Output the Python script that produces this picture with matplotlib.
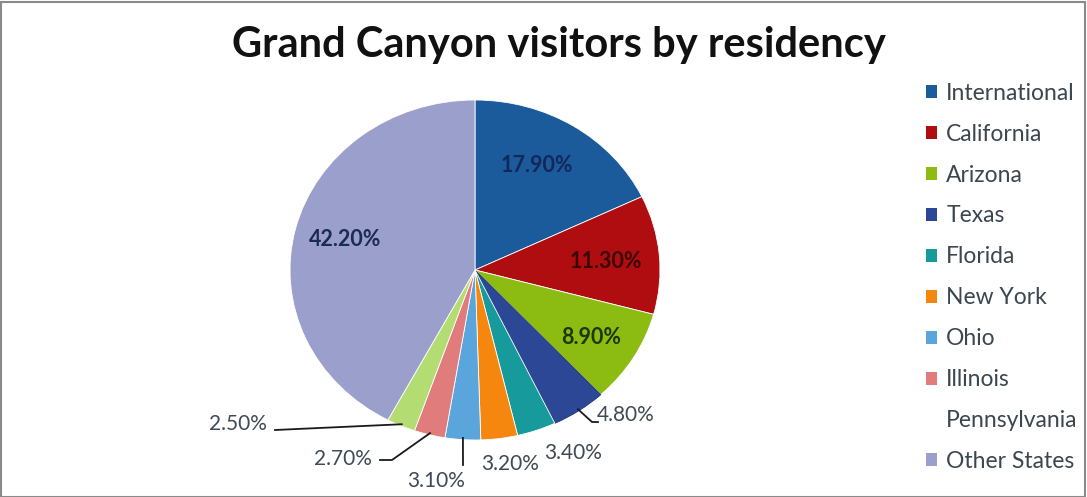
import numpy as np
import matplotlib
matplotlib.use("Agg")
import matplotlib.pyplot as plt
from matplotlib.patches import Patch, Rectangle

# data
regions = ['International', 'California', 'Arizona', 'Texas', 'Florida',
           'New York', 'Ohio', 'Illinois', 'Pennsylvania', 'Other States']
shares = [17.9, 11.3, 8.9, 4.8, 3.4, 3.2, 3.1, 2.7, 2.5, 42.2]

colors = ['#1b5b9b', '#b00d10', '#8cbc12', '#2b4796', '#179a9c',
          '#f5870e', '#5aa6dc', '#e07c7c', '#b3dc72', '#9b9fcb']
legend_colors = colors[:8] + ['white', colors[9]]

FONT = 'Lato'
W, H = 1087, 497
fig = plt.figure(figsize=(W / 100, H / 100), dpi=100)

# pie box in pixels (slightly wider than tall like the original)
cx, cy, rx, ry = 475, 270, 185, 170
ax = fig.add_axes([(cx - rx) / W, (H - cy - ry) / H, 2 * rx / W, 2 * ry / H])
wedges, _ = ax.pie(shares, colors=colors, startangle=90, counterclock=False,
                   wedgeprops=dict(edgecolor='white', linewidth=0.6))
wedges[3].set_edgecolor('#1f3578')
ax.set_aspect('auto')
ax.set_xlim(-1, 1)
ax.set_ylim(-1, 1)


def px(x, y):
    return (x - cx) / rx, (cy - y) / ry


def edge(i, r=1.0):
    start = sum(shares[:i])
    mid = (start + shares[i] / 2) / sum(shares) * 2 * np.pi
    return r * np.sin(mid), r * np.cos(mid)


labels = [f'{v:.2f}%' for v in shares]
inner = {0: ((537, 166), '#13285a'), 1: ((606, 262), '#3a0808'),
         2: ((591, 337), '#1c3808'), 9: ((345, 240), '#1b2b55')}
for i, ((x, y), c) in inner.items():
    ax.text(*px(x, y), labels[i], ha='center', va='center', fontsize=15.5,
            fontweight='bold', color=c, family=FONT)

out_col = '#3e4a55'
# outside labels: text position, alignment, leader path (pixel elbows)
outer = {3: ((597, 415), 'left', [(592, 422), (598, 422)]),
         4: ((573, 453), 'center', None),
         5: ((510, 464), 'center', None),
         6: ((436, 481), 'center', [(463, 465)]),
         7: ((343, 459), 'center', [(392, 460), (380, 460)]),
         8: ((238, 424), 'center', [(275, 430)])}
for i, ((x, y), ha, path) in outer.items():
    ax.text(*px(x, y), labels[i], ha=ha, va='center', fontsize=15,
            color=out_col, family=FONT, clip_on=False)
    if path:
        pts = [edge(i, 0.99)] + [px(a, b) for a, b in path]
        ax.plot([p[0] for p in pts], [p[1] for p in pts], color='#1a1a1a',
                lw=1.3, clip_on=False)

fig.text(559 / W, 1 - 45 / H, 'Grand Canyon visitors by residency',
         ha='center', va='center', fontsize=30, fontweight='bold',
         family=FONT, color='#111111')

handles = [Patch(facecolor=c, edgecolor='none') for c in legend_colors]
fig.legend(handles, regions, loc='upper left', bbox_to_anchor=(905 / W, 1 - 62 / H),
           frameon=False, labelspacing=0.87, handlelength=0.5,
           handleheight=0.5, handletextpad=0.4, labelcolor='#3a4650',
           prop={'family': FONT, 'size': 16.5})

fig.add_artist(Rectangle((0.001, 0.0), 0.997, 0.995, transform=fig.transFigure,
                         fill=False, edgecolor='#8a8a8a', lw=1.5))

fig.savefig('out.png', dpi=100)
